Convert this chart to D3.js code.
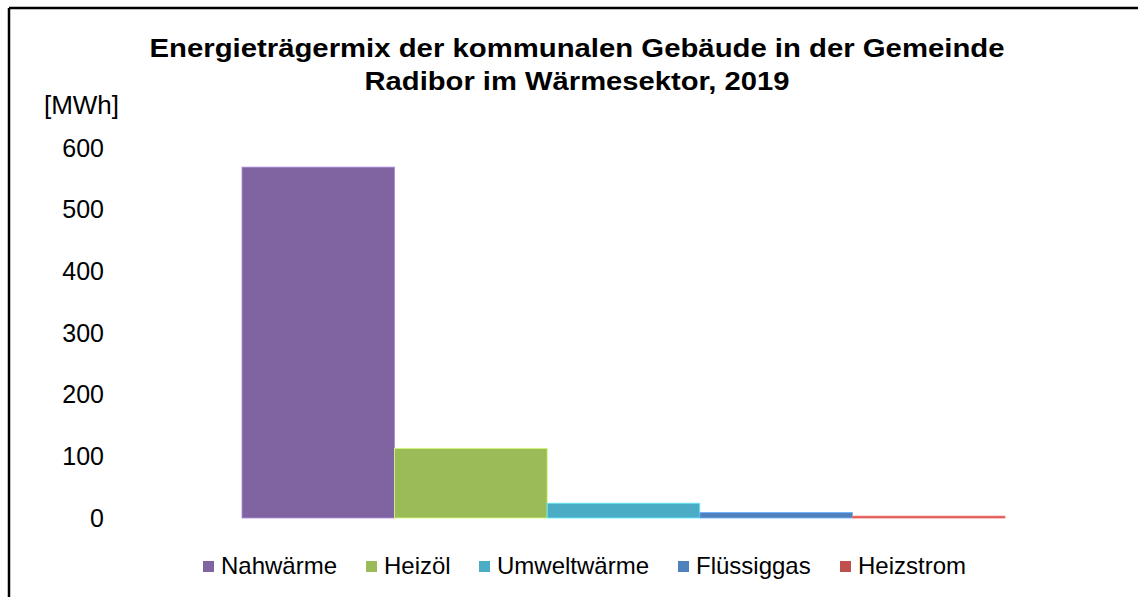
<!DOCTYPE html>
<html><head><meta charset="utf-8">
<script src="https://cdn.jsdelivr.net/npm/d3@7"></script>
<style>html,body{margin:0;padding:0;background:#fff;}svg{display:block;font-family:"Liberation Sans",Arial,sans-serif;}</style>
</head><body>
<script>
const categories = ["Nahwärme","Heizöl","Umweltwärme","Flüssiggas","Heizstrom"];
const values = [569, 113, 24, 9, 3];
const colors = ["#8064A2","#9BBB59","#4BACC6","#4F81BD","#C0504D"];
const yTicks = [0,100,200,300,400,500,600];
const titleLines = ["Energieträgermix der kommunalen Gebäude in der Gemeinde","Radibor im Wärmesektor, 2019"];
const unitLabel = "[MWh]";

const W = 1138, H = 597;
const svg = d3.select("body").append("svg").attr("width", W).attr("height", H);
svg.append("rect").attr("x",0).attr("y",0).attr("width",W).attr("height",H).attr("fill","#fff");
svg.append("line").attr("x1",9).attr("y1",8).attr("x2",W).attr("y2",8).attr("stroke","#000").attr("stroke-width",2.5);
svg.append("line").attr("x1",9).attr("y1",8).attr("x2",9).attr("y2",H).attr("stroke","#000").attr("stroke-width",2.5);

const x = d3.scaleBand().domain(categories).range([242, 1005]).padding(0);
const y = d3.scaleLinear().domain([0, 600]).range([518, 148]);

// title
const titleWidths = [855, 425];
const t = svg.append("text").attr("text-anchor","middle").attr("font-weight","bold").attr("font-size",26).attr("fill","#000");
titleLines.forEach((l,i)=>t.append("tspan").attr("x",577).attr("y",57 + i*33)
  .attr("textLength",titleWidths[i]).attr("lengthAdjust","spacingAndGlyphs").text(l));

// unit
svg.append("text").attr("x",81.5).attr("y",114).attr("text-anchor","middle").attr("font-size",26).attr("fill","#000").text(unitLabel);

// y axis (labels only)
const yAxis = d3.axisLeft(y).tickValues(yTicks).tickSize(0).tickPadding(0).tickFormat(d3.format("d"));
const ga = svg.append("g").attr("transform","translate(104,0)").call(yAxis);
ga.select(".domain").remove();
ga.selectAll("text").attr("font-size",25).attr("font-family","Liberation Sans, Arial, sans-serif").attr("fill","#000");

// bars
svg.append("g").selectAll("rect").data(categories).join("rect")
  .attr("x", d=>x(d)).attr("width", x.bandwidth())
  .attr("y", (d,i)=>y(values[i])).attr("height",(d,i)=>y(0)-y(values[i]))
  .attr("fill",(d,i)=>colors[i])
  .attr("stroke",(d,i)=>d3.color(colors[i]).brighter(0.9)).attr("stroke-width",0.8);

// legend
const legendX = [203, 366, 479, 678, 840];
const lg = svg.append("g").selectAll("g").data(categories).join("g")
  .attr("transform",(d,i)=>`translate(${legendX[i]},0)`);
lg.append("rect").attr("x",0).attr("y",561).attr("width",11).attr("height",11).attr("fill",(d,i)=>colors[i]);
lg.append("text").attr("x",18).attr("y",574).attr("font-size",24).attr("fill","#000").text(d=>d);
</script>
</body></html>
